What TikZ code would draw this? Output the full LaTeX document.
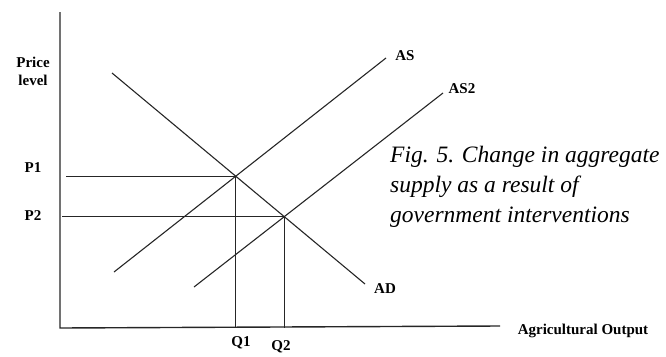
\documentclass[tikz,border=0pt]{standalone}
\usepackage{fontspec}
\setmainfont{Liberation Serif}
\usetikzlibrary{positioning, calc}

\begin{document}
\begin{tikzpicture}[x=1pt, y=-1pt,
    axis/.style={line width=1.4pt, black!85},
    curve/.style={line width=1.1pt, black!85},
    lbl/.style={font=\fontsize{15}{17}\selectfont\bfseries, inner sep=0pt},
    capt/.style={font=\fontsize{23.5}{30}\selectfont\itshape, align=left, inner sep=0pt}]
    \useasboundingbox (0,0) rectangle (666,356);

    % Axes
    \coordinate (o) at (60,328);
    \coordinate (ytop) at (60,12);
    \coordinate (xend) at (500,326);
    \draw[axis] (ytop) -- (o) -- (xend);

    % Curve end points
    \coordinate (adT) at (112,73);
    \coordinate (adB) at (365,284);
    \coordinate (asB) at (114,272);
    \coordinate (asT) at (386,58);
    \coordinate (as2B) at (194,287);
    \coordinate (as2T) at (443,93);

    % Curves
    \draw[curve] (adT) -- (adB);
    \draw[curve] (asB) -- (asT);
    \draw[curve] (as2B) -- (as2T);

    % Equilibria
    \coordinate (e1) at (intersection of adT--adB and asB--asT);
    \coordinate (e2) at (intersection of adT--adB and as2B--as2T);
    \coordinate (p1) at (66,0 |- e1);
    \coordinate (p2) at (62,0 |- e2);
    \draw[curve] (p1) -- (e1) -- (e1 |- o);
    \draw[curve] (p2) -- (e2) -- (e2 |- o);

    % Labels
    \node[lbl, align=center] (price) at (33,71) {Price\\[1pt]level};
    \node[lbl] (p1L) at (33,168) {P1};
    \node[lbl] (p2L) at (33,216) {P2};
    \node[lbl] (q1L) at (241,343) {Q1};
    \node[lbl] (q2L) at (281,347) {Q2};
    \node[lbl] (asL) at (405,56) {AS};
    \node[lbl] (as2L) at (462,89) {AS2};
    \node[lbl] (adL) at (385,289) {AD};
    \node[lbl] (xL) at (583,331) {Agricultural Output};

    % Caption
    \node[capt, anchor=base west] (fig) at (390,222)
        {Fig. 5. Change in aggregate\\supply as a result of\\government interventions};
\end{tikzpicture}
\end{document}
